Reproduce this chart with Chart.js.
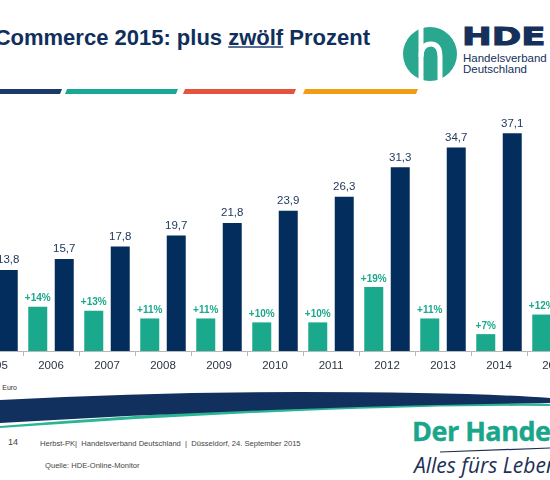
<!DOCTYPE html>
<html><head><meta charset="utf-8">
<script src="https://cdn.jsdelivr.net/npm/chart.js@4"></script>
<style>
html,body{margin:0;padding:0;background:#fff;}
body{width:550px;height:480px;position:relative;overflow:hidden;font-family:"Liberation Sans",Arial,sans-serif;}
#wrap{position:absolute;left:-33px;top:87px;width:616px;height:294px;}
.abs{position:absolute;white-space:nowrap;}
</style></head><body>
<svg class="abs" style="left:0;top:0" width="550" height="480">
  <!-- colour stripes -->
  <polygon points="0,89 62,89 60,94 0,94" fill="#1b3a6b"/>
  <polygon points="67,89 178,89 176,94 65,94" fill="#17a995"/>
  <polygon points="185,89 296,89 294,94 183,94" fill="#e5533d"/>
  <polygon points="305,89 418,89 416,94 303,94" fill="#f29c16"/>
  <!-- logo mark -->
  <circle cx="430" cy="54" r="27" fill="#2aa78f"/>
  <path d="M421,26 L421,80" stroke="#fff" stroke-width="5" fill="none"/>
  <path d="M421,57 Q421,44 431,44 Q440,44 440,57 L440,84" stroke="#fff" stroke-width="5" fill="none"/>
  <!-- swoosh -->
  <path d="M0,426 Q200,409 400,404 Q500,402 550,404 L550,406 Q450,405 300,411 Q150,417 0,428 Z" fill="#2bb594"/>
  <path d="M0,400 Q150,392 300,392 Q470,392 550,398 L550,403 Q450,404 300,409 Q150,414 0,423 Z" fill="#12305e"/>
  <!-- Der Handel underline -->
  <path d="M440,452 L550,448" stroke="#1d2f55" stroke-width="1.2"/>
</svg>
<div class="abs" style="right:180px;top:27px;font-size:22px;line-height:22px;font-weight:bold;color:#102f5c">E-Commerce 2015: plus <span style="text-decoration:underline;text-decoration-thickness:1.5px;text-decoration-color:#5a6f95">zwölf</span> Prozent</div>
<div class="abs" style="left:462px;top:23px;font-size:25px;line-height:28px;font-weight:bold;color:#16305c;font-family:'DejaVu Sans',sans-serif;transform:scaleX(1.42);transform-origin:left top;-webkit-text-stroke:1px #16305c">HDE</div>
<div class="abs" style="left:463px;top:53px;font-size:11.5px;line-height:11px;color:#16305c">Handelsverband<br>Deutschland</div>
<div class="abs" style="right:533px;top:384px;font-size:7px;color:#333">in Mrd. Euro</div>
<div class="abs" style="left:8px;top:437px;font-size:9px;color:#444">14</div>
<div class="abs" style="left:40px;top:439px;font-size:7.6px;color:#444">Herbst-PK|&nbsp; Handelsverband Deutschland&nbsp; |&nbsp; Düsseldorf, 24. September 2015</div>
<div class="abs" style="left:45px;top:461px;font-size:7.6px;color:#444">Quelle: HDE-Online-Monitor</div>
<div class="abs" style="left:412px;top:416px;font-size:27px;line-height:30px;font-weight:bold;color:#1aa68a;font-family:'Open Sans',sans-serif;letter-spacing:-0.5px;-webkit-text-stroke:0.4px #1aa68a">Der Handel</div>
<div class="abs" style="left:414px;top:453px;font-size:21px;line-height:24px;font-style:italic;color:#1d2f55;font-family:'Liberation Sans Narrow','Open Sans',sans-serif">Alles fürs Leben</div>
<div id="wrap"><canvas id="c"></canvas></div>
<script>
const years = ['2005','2006','2007','2008','2009','2010','2011','2012','2013','2014','2015'];
const revenue = [13.8,15.7,17.8,19.7,21.8,23.9,26.3,31.3,34.7,37.1,41.7];
const growth = [null,14,13,11,11,10,10,19,11,7,12];

const NAVY = '#022d5c';
const TEAL = '#1aa98c';

const valueLabels = {
  id: 'valueLabels',
  afterDatasetsDraw(chart) {
    const ctx = chart.ctx;
    chart.data.datasets.forEach((ds, i) => {
      const meta = chart.getDatasetMeta(i);
      meta.data.forEach((bar, j) => {
        const v = ds.data[j];
        if (v == null) return;
        ctx.save();
        ctx.textAlign = 'center';
        ctx.textBaseline = 'middle';
        let text, off;
        if (i === 0) {
          ctx.font = 'bold 10px "Liberation Sans", Arial, sans-serif';
          ctx.fillStyle = TEAL;
          text = '+' + v + '%';
          off = 8;
        } else {
          ctx.font = '11.5px "Liberation Sans", Arial, sans-serif';
          ctx.fillStyle = '#22395d';
          text = v.toFixed(1).replace('.', ',');
          off = 10;
        }
        ctx.fillText(text, bar.x, bar.y - off);
        ctx.restore();
      });
    });
  }
};

new Chart(document.getElementById('c'), {
  type: 'bar',
  data: {
    labels: years,
    datasets: [
      { label: 'Wachstum', data: growth, backgroundColor: TEAL, yAxisID: 'y2',
        categoryPercentage: 0.946, barPercentage: 0.717 },
      { label: 'Umsatz', data: revenue, backgroundColor: NAVY, yAxisID: 'y',
        categoryPercentage: 0.946, barPercentage: 0.717 }
    ]
  },
  plugins: [valueLabels],
  options: {
    responsive: true,
    maintainAspectRatio: false,
    animation: false,
    layout: { padding: 0 },
    plugins: { legend: { display: false }, tooltip: { enabled: false } },
    scales: {
      x: {
        afterFit(scale) { scale.height = 30; },
        grid: { offset: true, drawOnChartArea: false, tickLength: 5, color: '#b8b8b8' },
        border: { color: '#b8b8b8', width: 1 },
        ticks: { color: '#2b3543', padding: 3, autoSkip: false, maxRotation: 0,
          font: { family: '"Liberation Sans", Arial, sans-serif', size: 11.5 } }
      },
      y: { display: false, min: 0, max: 45 },
      y2: { display: false, min: 2.7, max: 70.05 }
    }
  }
});
</script>
</body></html>
